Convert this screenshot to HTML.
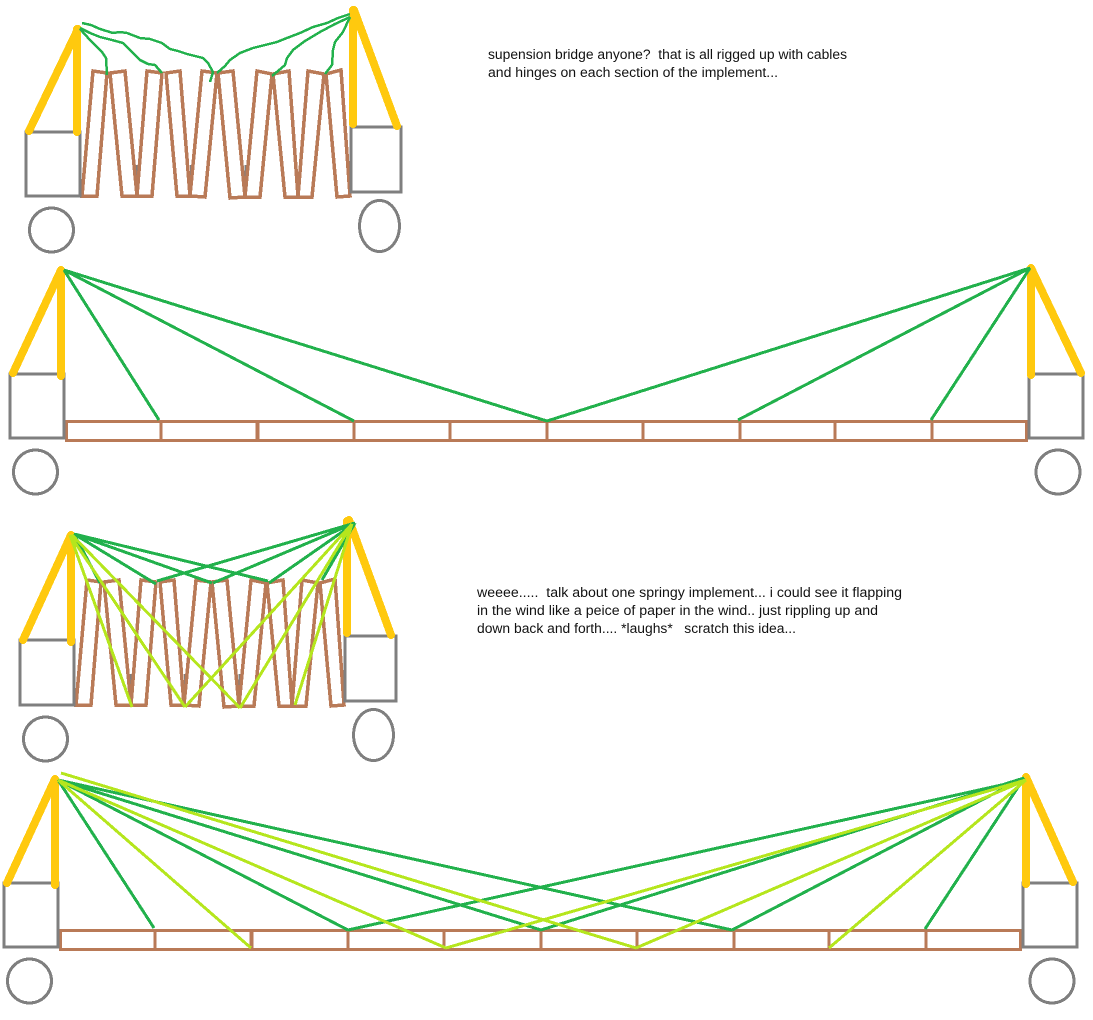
<!DOCTYPE html>
<html><head><meta charset="utf-8"><style>
html,body{margin:0;padding:0;background:#fff;width:1093px;height:1020px;overflow:hidden}
svg{display:block}
text{font-family:"Liberation Sans",sans-serif;font-size:13.500px;fill:#111;white-space:pre}
path,polyline,rect,circle,ellipse{shape-rendering:crispEdges}
.g{fill:none;stroke:#7f7f7f;stroke-width:3}
.b{fill:none;stroke:#b97a57;stroke-width:3}
.z{fill:none;stroke:#b97a57;stroke-width:3.500}
.y{fill:none;stroke:#ffc90e;stroke-width:8;stroke-linecap:round}
.v{fill:none;stroke:#ffc90e;stroke-width:8;stroke-linecap:round}
.c{fill:none;stroke:#22b14c;stroke-width:2.500;stroke-linejoin:round}
.d{fill:none;stroke:#22b14c;stroke-width:3}
.l{fill:none;stroke:#b5e61d;stroke-width:3}
.t{stroke:#7f7f7f;stroke-width:1;fill:none}
</style></head><body>
<svg width="1093" height="1020" viewBox="0 0 1093 1020" xmlns="http://www.w3.org/2000/svg">
<defs>
<g id="zig">
<path class="t" d="M136.500 165V196M137.500 165V196M190.500 165V196M245 165V196M246 165V196M296.500 165V196"/>
<path class="z" d="M82 196H97L107 73L93 71Z"/>
<path class="z" d="M110 73L125 71L137 196H122Z"/>
<path class="z" d="M137 196H152L162 73L147 71Z"/>
<path class="z" d="M166 73L180 71L190 196L177 196Z"/>
<path class="z" d="M190 196L205 197L217 73L202 71Z"/>
<path class="z" d="M218 73L233 71L245 197L230 198Z"/>
<path class="z" d="M245 197H260L272 74L257 71Z"/>
<path class="z" d="M273 74L289 71L298 197H285Z"/>
<path class="z" d="M298 197H312L324 74L308 71Z"/>
<path class="z" d="M326 74L341 70L350 196L337 197Z"/>
</g>
<g id="deck">
<rect class="b" x="66.500" y="421.500" width="960" height="19"/>
<path class="b" d="M161 422V440M354 422V440M450 422V440M547 422V440M643 422V440M740 422V440M835 422V440M932 422V440"/>
<path class="b" style="stroke-width:4" d="M257.500 422V440"/>
</g>
</defs>

<!-- Bridge 1 -->
<use href="#zig"/>
<rect class="g" x="26" y="132" width="54" height="64"/>
<rect class="g" x="351" y="127" width="50" height="65"/>
<circle class="g" cx="51.500" cy="230" r="22"/>
<ellipse class="g" cx="379.500" cy="226" rx="20" ry="25.500"/>
<path class="y" d="M29 131L78 29M354 10L397 126"/>
<path class="v" d="M77 29V132M353 10V124"/>
<polyline class="c" points="82,23 91,25 100,29 113,33 120,32 127,33 140,38 150,39 162,43 170,49 178,51 187,54 203,58 208,63 213,72 210,82"/>
<polyline class="c" points="80,28 90,33 100,37 112,40 123,43 130,50 140,60 148,64 155,65 162,73"/>
<polyline class="c" points="80,29 90,40 102,52 106,58 107,75"/>
<polyline class="c" points="350,14 338,18 327,23 313,27 300,33 287,38 277,42 265,45 253,48 240,53 230,60 225,66 217,73"/>
<polyline class="c" points="350,17 335,24 320,32 305,41 293,50 287,58 285,65 278,71 272,76"/>
<polyline class="c" points="350,17 343,32 335,42 333,50 332,65 325,74"/>
<text x="488" y="59" textLength="359" lengthAdjust="spacingAndGlyphs">supension bridge anyone?  that is all rigged up with cables</text>
<text x="488" y="77" textLength="290" lengthAdjust="spacingAndGlyphs">and hinges on each section of the implement...</text>

<!-- Bridge 2 -->
<use href="#deck"/>
<rect class="g" x="10" y="374" width="54" height="64"/>
<rect class="g" x="1029" y="374" width="54" height="64"/>
<circle class="g" cx="35.500" cy="472" r="22"/>
<circle class="g" cx="1058" cy="472" r="22"/>
<path class="y" d="M13 373L61 270M1031 268L1081 373"/>
<path class="v" d="M61 270V376M1031 268V375"/>
<path class="d" d="M64 270L159 420M64 270L354 421M64 270L547 421M1030 268L547 421M1030 268L738 420M1030 268L931 420"/>

<!-- Bridge 3 -->
<use href="#zig" transform="translate(-6,509)"/>
<rect class="g" x="20" y="640" width="54" height="65"/>
<rect class="g" x="345" y="636" width="51" height="65"/>
<circle class="g" cx="45.500" cy="739" r="22"/>
<ellipse class="g" cx="373.500" cy="735" rx="20" ry="25.500"/>
<path class="y" d="M23 640L71 535M349 520L391 635"/>
<path class="v" d="M71 535V642M347 521V633"/>
<path class="d" d="M74 534L100 583M74 534L156 584M74 534L212 583M74 534L268 581M355 523L157 581M355 523L213 583M355 523L269 583M355 523L322 580"/>
<path class="l" d="M70 535L132 707M70 535L185 707M72 535L240 708M352 524L295 705M352 524L240 708M352 524L185 707"/>
<text x="477" y="597" textLength="425" lengthAdjust="spacingAndGlyphs">weeee.....  talk about one springy implement... i could see it flapping</text>
<text x="477" y="615" textLength="401" lengthAdjust="spacingAndGlyphs">in the wind like a peice of paper in the wind.. just rippling up and</text>
<text x="477" y="633" textLength="319" lengthAdjust="spacingAndGlyphs">down back and forth.... *laughs*   scratch this idea...</text>

<!-- Bridge 4 -->
<use href="#deck" transform="translate(-6,509)"/>
<rect class="g" x="4" y="883" width="54" height="64"/>
<rect class="g" x="1023" y="883" width="54" height="64"/>
<circle class="g" cx="29.500" cy="981" r="22"/>
<circle class="g" cx="1052" cy="981" r="22"/>
<path class="y" d="M7 883L55 779M1026 777L1073 882"/>
<path class="v" d="M55 779V885M1026 777V884"/>
<path class="d" d="M58 780L154 928M58 780L348 930M58 780L541 930M58 780L732 930M1024 778L925 929M1024 778L732 930M1024 778L541 930M1024 780L348 930"/>
<path class="l" d="M61 773L636 948M58 780L446 948M58 780L251 948M1026 780L829 948M1026 780L636 948M1026 780L446 948"/>
</svg>
</body></html>
